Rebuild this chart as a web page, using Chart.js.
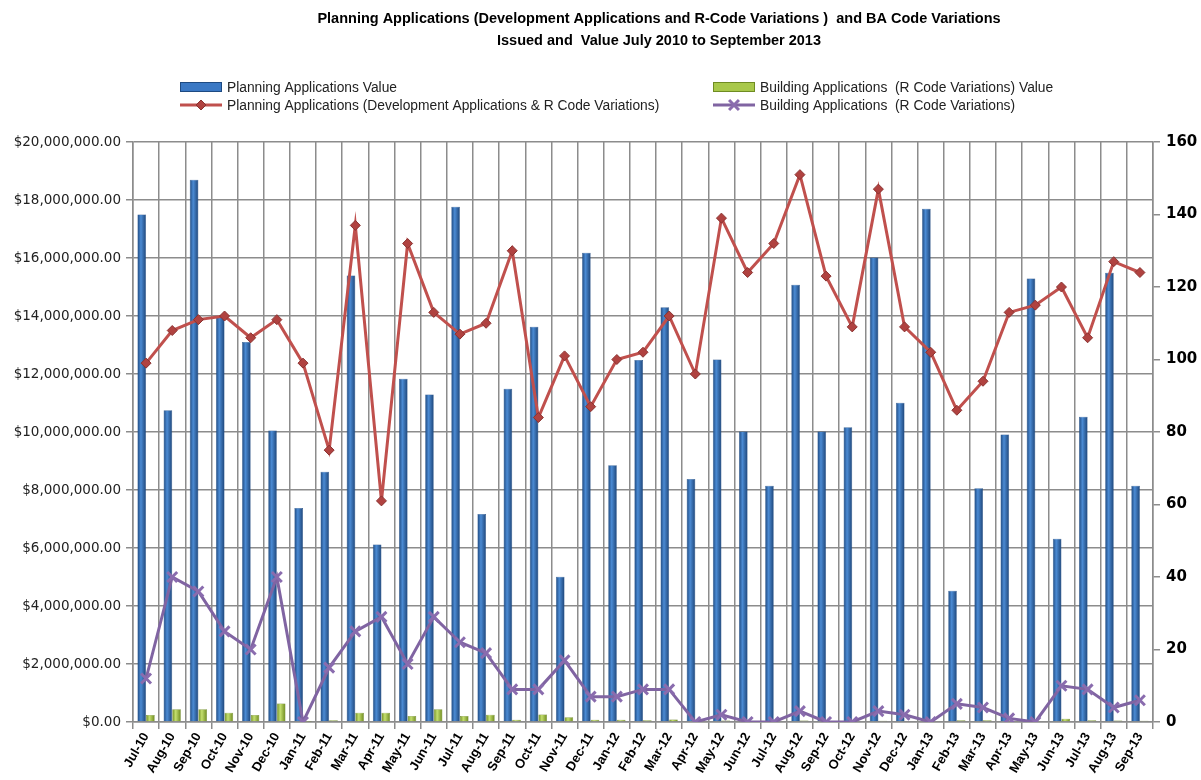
<!DOCTYPE html>
<html>
<head>
<meta charset="utf-8">
<script src="https://cdn.jsdelivr.net/npm/chart.js@4"></script>
<style>
  body { margin: 0; background: #fff; }
  #wrap { width: 1201px; height: 780px; }
</style>
</head>
<body>
<div id="wrap"><canvas id="reportChart" width="1201" height="780"></canvas></div>
<script>
// months shown on the x axis
const categories = ['Jul-10', 'Aug-10', 'Sep-10', 'Oct-10', 'Nov-10', 'Dec-10',
    'Jan-11', 'Feb-11', 'Mar-11', 'Apr-11', 'May-11', 'Jun-11', 'Jul-11', 'Aug-11', 'Sep-11', 'Oct-11', 'Nov-11', 'Dec-11',
    'Jan-12', 'Feb-12', 'Mar-12', 'Apr-12', 'May-12', 'Jun-12', 'Jul-12', 'Aug-12', 'Sep-12', 'Oct-12', 'Nov-12', 'Dec-12',
    'Jan-13', 'Feb-13', 'Mar-13', 'Apr-13', 'May-13', 'Jun-13', 'Jul-13', 'Aug-13', 'Sep-13'];

// $ values (left axis)
const planningValue = [17500000, 10750000, 18700000, 13950000, 13100000, 10050000,
    7380000, 8630000, 15400000, 6120000, 11840000, 11290000, 17770000, 7170000, 11490000, 13630000, 5010000, 16180000,
    8850000, 12480000, 14300000, 8380000, 12500000, 10020000, 8150000, 15080000, 10020000, 10160000, 16020000, 11010000,
    17700000, 4530000, 8060000, 9910000, 15290000, 6320000, 10530000, 15490000, 8150000];
const buildingValue = [240000, 440000, 440000, 320000, 240000, 640000,
    10000, 60000, 320000, 320000, 210000, 440000, 210000, 250000, 80000, 260000, 160000, 80000,
    80000, 60000, 90000, 40000, 50000, 20000, 30000, 50000, 20000, 30000, 40000, 30000,
    30000, 60000, 60000, 40000, 30000, 110000, 60000, 50000, 40000];

// counts issued (right axis)
const planningCount = [99, 108, 111, 112, 106, 111,
    99, 75, 137, 61, 132, 113, 107, 110, 130, 84, 101, 87,
    100, 102, 112, 96, 139, 124, 132, 151, 123, 109, 147, 109,
    102, 86, 94, 113, 115, 120, 106, 127, 124];
const buildingCount = [12, 40, 36, 25, 20, 40,
    0, 15, 25, 29, 16, 29, 22, 19, 9, 9, 17, 7,
    7, 9, 9, 0, 2, 0, 0, 3, 0, 0, 3, 2,
    0, 5, 4, 1, 0, 10, 9, 4, 6];

const leftTicks = [0, 2000000, 4000000, 6000000, 8000000, 10000000, 12000000, 14000000, 16000000, 18000000, 20000000];
const rightTicks = [0, 20, 40, 60, 80, 100, 120, 140, 160];

const titleLines = ['Planning Applications (Development Applications and R-Code Variations )  and BA Code Variations',
    'Issued and  Value July 2010 to September 2013'];

const GRID = '#8c8c8c';
const SANS = '"Liberation Sans", Arial, sans-serif';

// cylinder-ish shading across each bar
function barFill(stops, shift) {
    return function(c) {
        const chart = c.chart;
        const xs = chart.scales.x;
        if (!xs || c.dataIndex === undefined) return stops[1];
        const cx = xs.getPixelForValue(c.dataIndex) + shift;
        if (!isFinite(cx)) return stops[1];
        const g = chart.ctx.createLinearGradient(cx - 4.5, 0, cx + 4.5, 0);
        g.addColorStop(0, stops[0]);
        g.addColorStop(0.4, stops[1]);
        g.addColorStop(1, stops[2]);
        return g;
    };
}

const headerPlugin = {
    id: 'header',
    afterDraw(chart) {
        const ctx = chart.ctx;
        ctx.save();
        ctx.fillStyle = '#000';
        ctx.textAlign = 'center';
        ctx.textBaseline = 'middle';
        ctx.font = 'bold 14.5px ' + SANS;
        ctx.fillText(titleLines[0], 659, 19);
        ctx.fillText(titleLines[1], 659, 41);

        // legend, two columns like the original
        const ds = chart.data.datasets;
        const items = [
            { d: ds[2], x: 180, y: 87, kind: 'bar' },
            { d: ds[3], x: 713, y: 87, kind: 'bar' },
            { d: ds[0], x: 180, y: 105, kind: 'line' },
            { d: ds[1], x: 713, y: 105, kind: 'line' }
        ];
        ctx.font = '13.8px ' + SANS;
        ctx.textAlign = 'left';
        items.forEach(it => {
            if (it.kind === 'bar') {
                ctx.fillStyle = it.d.legendColor;
                ctx.fillRect(it.x, it.y - 5, 42, 10);
                ctx.strokeStyle = it.d.legendEdge;
                ctx.lineWidth = 1;
                ctx.strokeRect(it.x + 0.5, it.y - 4.5, 41, 9);
            } else {
                ctx.strokeStyle = it.d.borderColor;
                ctx.lineWidth = 3;
                ctx.beginPath();
                ctx.moveTo(it.x, it.y);
                ctx.lineTo(it.x + 42, it.y);
                ctx.stroke();
                ctx.fillStyle = it.d.pointBackgroundColor;
                ctx.strokeStyle = it.d.pointBorderColor;
                ctx.lineWidth = it.d.pointBorderWidth;
                Chart.helpers.drawPoint(ctx, {
                    pointStyle: it.d.pointStyle,
                    radius: it.d.pointRadius,
                    borderWidth: it.d.pointBorderWidth,
                    rotation: 0
                }, it.x + 21, it.y);
            }
            ctx.fillStyle = '#222';
            ctx.fillText(it.d.label, it.x + 47, it.y + 1);
        });
        ctx.restore();
    }
};

window.onload = function() {
    const ctx = document.getElementById('reportChart').getContext('2d');
    new Chart(ctx, {
        type: 'bar',
        data: {
            labels: categories,
            datasets: [{
                type: 'line',
                label: 'Planning Applications (Development Applications & R Code Variations)',
                data: planningCount,
                yAxisID: 'y1',
                order: 1,
                borderColor: '#c0504d',
                borderWidth: 3,
                tension: 0,
                pointStyle: 'rectRot',
                pointRadius: 5,
                pointBorderWidth: 1,
                pointBackgroundColor: '#b04240',
                pointBorderColor: '#8a3230'
            }, {
                type: 'line',
                label: 'Building Applications  (R Code Variations)',
                data: buildingCount,
                yAxisID: 'y1',
                order: 1,
                borderColor: '#8064a2',
                borderWidth: 3,
                tension: 0,
                pointStyle: 'crossRot',
                pointRadius: 7,
                pointBorderWidth: 3,
                pointBackgroundColor: '#8064a2',
                pointBorderColor: '#8a6cae'
            }, {
                label: 'Planning Applications Value',
                data: planningValue,
                yAxisID: 'y',
                order: 2,
                backgroundColor: barFill(['#1b4479', '#4b8bd4', '#1c4274'], -4.3),
                borderColor: '#1d4a82',
                borderWidth: 0.5,
                legendColor: '#3a78c4',
                legendEdge: '#1d4a82',
                categoryPercentage: 0.66,
                barPercentage: 1
            }, {
                label: 'Building Applications  (R Code Variations) Value',
                data: buildingValue,
                yAxisID: 'y',
                order: 2,
                backgroundColor: barFill(['#6a861c', '#c4df6e', '#6a861c'], 4.3),
                borderColor: '#5f7a18',
                borderWidth: 0.5,
                legendColor: '#a8c84a',
                legendEdge: '#6f8c22',
                categoryPercentage: 0.66,
                barPercentage: 1
            }]
        },
        options: {
            responsive: false,
            animation: false,
            layout: { padding: { top: 142, left: 4, right: 0, bottom: 0 } },
            plugins: {
                legend: { display: false },
                title: { display: false },
                tooltip: { enabled: false }
            },
            scales: {
                x: {
                    grid: { offset: true, color: GRID, lineWidth: 1.5, tickLength: 7 },
                    border: { color: GRID, width: 1.5 },
                    ticks: {
                        autoSkip: false,
                        minRotation: 60,
                        maxRotation: 60,
                        padding: 1,
                        color: '#000',
                        font: { family: SANS, size: 13, weight: 'bold' }
                    },
                    afterFit: s => { s.height = 58; }
                },
                y: {
                    position: 'left',
                    min: leftTicks[0],
                    max: leftTicks[leftTicks.length - 1],
                    afterBuildTicks: s => { s.ticks = leftTicks.map(v => ({ value: v })); },
                    grid: { color: GRID, lineWidth: 1.5, tickLength: 7 },
                    border: { color: GRID, width: 1.5 },
                    ticks: {
                        padding: 5,
                        color: '#222',
                        font: { family: '"DejaVu Sans", sans-serif', size: 13.5 },
                        callback: v => '$' + Number(v).toLocaleString('en-US', { minimumFractionDigits: 2, maximumFractionDigits: 2 })
                    },
                    afterFit: s => { s.width = 129; }
                },
                y1: {
                    position: 'right',
                    min: rightTicks[0],
                    max: rightTicks[rightTicks.length - 1],
                    afterBuildTicks: s => { s.ticks = rightTicks.map(v => ({ value: v })); },
                    grid: { drawOnChartArea: false, color: GRID, lineWidth: 1.5, tickLength: 7 },
                    border: { color: GRID, width: 1.5 },
                    ticks: {
                        padding: 6,
                        color: '#000',
                        font: { family: '"DejaVu Sans", sans-serif', size: 15, weight: 'bold' }
                    },
                    afterFit: s => { s.width = 48; }
                }
            }
        },
        plugins: [headerPlugin]
    });
};
</script>
</body>
</html>
